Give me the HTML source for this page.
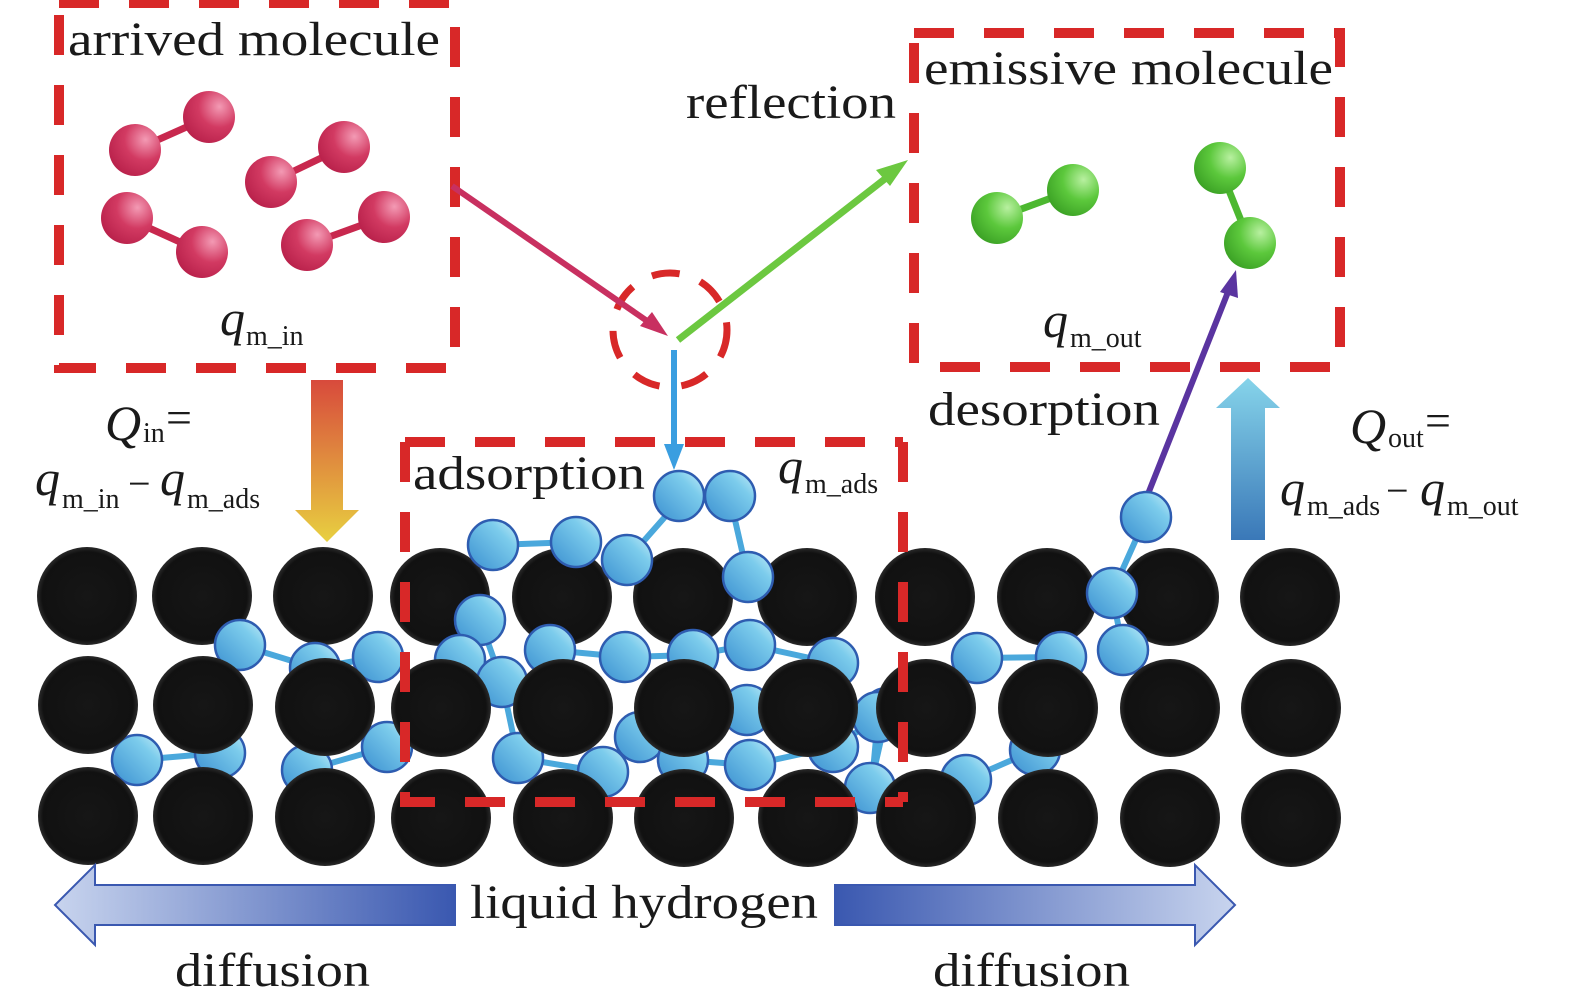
<!DOCTYPE html>
<html><head><meta charset="utf-8"><style>
html,body{margin:0;padding:0;background:#fff;}
svg{display:block;}
text{font-family:"Liberation Serif",serif;fill:#1a1a1a;}
</style></head><body>
<svg width="1575" height="1006" viewBox="0 0 1575 1006" xmlns="http://www.w3.org/2000/svg">
<defs>
<radialGradient id="rb" cx="0.7" cy="0.3" r="0.8"><stop offset="0" stop-color="#f39ab4"/><stop offset="0.5" stop-color="#d23a62"/><stop offset="1" stop-color="#b8204a"/></radialGradient>
<radialGradient id="gb" cx="0.7" cy="0.3" r="0.8"><stop offset="0" stop-color="#b8f0a0"/><stop offset="0.5" stop-color="#5cc83c"/><stop offset="1" stop-color="#3aa024"/></radialGradient>
<linearGradient id="bb" x1="0" y1="1" x2="1" y2="0"><stop offset="0" stop-color="#3a8fd0"/><stop offset="0.7" stop-color="#7cccec"/><stop offset="1" stop-color="#c8eef8"/></linearGradient>
<radialGradient id="kb" cx="0.5" cy="0.5" r="0.5"><stop offset="0" stop-color="#161616"/><stop offset="0.9" stop-color="#111"/><stop offset="1" stop-color="#2a2a2a"/></radialGradient>
<linearGradient id="inA" x1="0" y1="0" x2="0" y2="1"><stop offset="0" stop-color="#d84a3c"/><stop offset="1" stop-color="#e8d040"/></linearGradient>
<linearGradient id="outA" x1="0" y1="0" x2="0" y2="1"><stop offset="0" stop-color="#86d4ea"/><stop offset="1" stop-color="#3a78b8"/></linearGradient>
<linearGradient id="lA" x1="0" y1="0" x2="1" y2="0"><stop offset="0" stop-color="#c8d4ee"/><stop offset="1" stop-color="#3a58b0"/></linearGradient>
<linearGradient id="rA" x1="0" y1="0" x2="1" y2="0"><stop offset="0" stop-color="#3a58b0"/><stop offset="1" stop-color="#c8d4ee"/></linearGradient>
</defs>

<!-- dashed boxes -->
<g fill="none" stroke="#d82828" stroke-width="10" stroke-dasharray="40,30">
<rect x="59" y="3" width="396" height="365"/>
<rect x="914" y="33" width="426" height="334"/>
<path d="M405 442 H903 M405 442 V802 H903 M903 442 V802"/>
<circle cx="670" cy="330" r="57" stroke-dasharray="28,22" stroke-width="7"/>
</g>

<!-- red molecules -->
<g stroke="#c8284e" stroke-width="7">
<line x1="135" y1="150" x2="209" y2="117"/><line x1="271" y1="182" x2="344" y2="147"/>
<line x1="127" y1="218" x2="202" y2="252"/><line x1="307" y1="245" x2="384" y2="217"/>
</g>
<g fill="url(#rb)">
<circle cx="135" cy="150" r="26"/><circle cx="209" cy="117" r="26"/><circle cx="271" cy="182" r="26"/><circle cx="344" cy="147" r="26"/>
<circle cx="127" cy="218" r="26"/><circle cx="202" cy="252" r="26"/><circle cx="307" cy="245" r="26"/><circle cx="384" cy="217" r="26"/>
</g>
<!-- green molecules -->
<g stroke="#4cb830" stroke-width="7"><line x1="997" y1="218" x2="1073" y2="190"/><line x1="1220" y1="168" x2="1250" y2="243"/></g>
<g fill="url(#gb)"><circle cx="997" cy="218" r="26"/><circle cx="1073" cy="190" r="26"/><circle cx="1220" cy="168" r="26"/><circle cx="1250" cy="243" r="26"/></g>

<!-- arrows -->
<line x1="452" y1="186" x2="650" y2="323" stroke="#c83060" stroke-width="6"/>
<polygon points="668,336 640,326 652,312" fill="#c83060"/>
<line x1="678" y1="340" x2="890" y2="175" stroke="#6cc840" stroke-width="7"/>
<polygon points="908,160 876,170 890,186" fill="#6cc840"/>
<line x1="674" y1="350" x2="674" y2="450" stroke="#3a9ee0" stroke-width="6"/>
<polygon points="674,470 664,444 684,444" fill="#3a9ee0"/>
<line x1="1148" y1="494" x2="1228" y2="292" stroke="#5a34a0" stroke-width="6"/>
<polygon points="1236,270 1220,292 1238,298" fill="#5a34a0"/>
<polygon points="311,380 343,380 343,510 359,510 327,542 295,510 311,510" fill="url(#inA)"/>
<polygon points="1248,378 1280,408 1265,408 1265,540 1231,540 1231,408 1216,408" fill="url(#outA)"/>

<!-- blue bonds -->
<g stroke="#4aa8dc" stroke-width="6" fill="none">
<path d="M679 501 L627 560 M730 498 L748 577 M493 545 L576 542 M240 645 L315 668 L378 657 M137 760 L220 753 M307 770 L387 747 M480 620 L502 682 L460 660 M550 650 L625 657 L693 655 L750 645 L833 663 M518 758 L603 772 L640 737 L683 760 L750 765 L833 747 L887 713 L870 788 M747 710 L833 663 M1146 517 L1112 593 L1123 650 M977 658 L1061 657 M966 780 L1035 750 M871 793 L878 717 M502 682 L518 758"/>
</g>

<!-- black circles -->
<g fill="url(#kb)">
<ellipse cx="87" cy="596" rx="50" ry="49"/><ellipse cx="202" cy="596" rx="50" ry="49"/><ellipse cx="323" cy="596" rx="50" ry="49"/><ellipse cx="440" cy="597" rx="50" ry="49"/><ellipse cx="562" cy="597" rx="50" ry="49"/><ellipse cx="683" cy="597" rx="50" ry="49"/><ellipse cx="807" cy="597" rx="50" ry="49"/><ellipse cx="925" cy="597" rx="50" ry="49"/><ellipse cx="1047" cy="597" rx="50" ry="49"/><ellipse cx="1169" cy="597" rx="50" ry="49"/><ellipse cx="1290" cy="597" rx="50" ry="49"/>
</g>

<!-- blue spheres (mid layer) -->
<g fill="url(#bb)" stroke="#2e5cb0" stroke-width="2.5">
<circle cx="679" cy="496" r="25"/><circle cx="730" cy="496" r="25"/>
<circle cx="493" cy="545" r="25"/><circle cx="576" cy="542" r="25"/><circle cx="627" cy="560" r="25"/><circle cx="748" cy="577" r="25"/>
<circle cx="1146" cy="517" r="25"/><circle cx="1112" cy="593" r="25"/>
<circle cx="240" cy="645" r="25"/><circle cx="315" cy="668" r="25"/><circle cx="378" cy="657" r="25"/>
<circle cx="480" cy="620" r="25"/><circle cx="460" cy="660" r="25"/><circle cx="502" cy="682" r="25"/><circle cx="550" cy="650" r="25"/>
<circle cx="625" cy="657" r="25"/><circle cx="693" cy="655" r="25"/><circle cx="750" cy="645" r="25"/><circle cx="833" cy="663" r="25"/>
<circle cx="1123" cy="650" r="25"/><circle cx="977" cy="658" r="25"/><circle cx="1061" cy="657" r="25"/>
<circle cx="137" cy="760" r="25"/><circle cx="220" cy="753" r="25"/><circle cx="307" cy="770" r="25"/><circle cx="387" cy="747" r="25"/>
<circle cx="518" cy="758" r="25"/><circle cx="603" cy="772" r="25"/><circle cx="640" cy="737" r="25"/><circle cx="683" cy="760" r="25"/>
<circle cx="750" cy="765" r="25"/><circle cx="747" cy="710" r="25"/><circle cx="833" cy="747" r="25"/><circle cx="887" cy="713" r="25"/><circle cx="870" cy="788" r="25"/>
<circle cx="878" cy="717" r="25"/><circle cx="1035" cy="750" r="25"/><circle cx="966" cy="780" r="25"/>
</g>

<g fill="url(#kb)">
<ellipse cx="88" cy="705" rx="50" ry="49"/><ellipse cx="203" cy="705" rx="50" ry="49"/><ellipse cx="325" cy="707" rx="50" ry="49"/><ellipse cx="441" cy="708" rx="50" ry="49"/><ellipse cx="563" cy="708" rx="50" ry="49"/><ellipse cx="684" cy="708" rx="50" ry="49"/><ellipse cx="808" cy="708" rx="50" ry="49"/><ellipse cx="926" cy="708" rx="50" ry="49"/><ellipse cx="1048" cy="708" rx="50" ry="49"/><ellipse cx="1170" cy="708" rx="50" ry="49"/><ellipse cx="1291" cy="708" rx="50" ry="49"/>
<ellipse cx="88" cy="816" rx="50" ry="49"/><ellipse cx="203" cy="816" rx="50" ry="49"/><ellipse cx="325" cy="817" rx="50" ry="49"/><ellipse cx="441" cy="818" rx="50" ry="49"/><ellipse cx="563" cy="818" rx="50" ry="49"/><ellipse cx="684" cy="818" rx="50" ry="49"/><ellipse cx="808" cy="818" rx="50" ry="49"/><ellipse cx="926" cy="818" rx="50" ry="49"/><ellipse cx="1048" cy="818" rx="50" ry="49"/><ellipse cx="1170" cy="818" rx="50" ry="49"/><ellipse cx="1291" cy="818" rx="50" ry="49"/>
</g>
<!-- dashed box overlay on circles -->
<g fill="none" stroke="#d82828" stroke-width="10" stroke-dasharray="40,30"><path d="M405 442 V802 H903 M903 442 V802"/></g>

<!-- diffusion arrows -->
<polygon points="455,885 455,925 95,925 95,945 55,905 95,865 95,885" fill="url(#lA)" stroke="#3a58b0" stroke-width="2"/>
<polygon points="835,885 835,925 1195,925 1195,945 1235,905 1195,865 1195,885" fill="url(#rA)" stroke="#3a58b0" stroke-width="2"/>

<!-- text -->
<g font-size="48">
<text x="68" y="55" textLength="372" lengthAdjust="spacingAndGlyphs">arrived molecule</text>
<text x="686" y="118" textLength="210" lengthAdjust="spacingAndGlyphs">reflection</text>
<text x="924" y="84" textLength="409" lengthAdjust="spacingAndGlyphs">emissive molecule</text>
<text x="928" y="425" textLength="232" lengthAdjust="spacingAndGlyphs">desorption</text>
<text x="413" y="489" textLength="232" lengthAdjust="spacingAndGlyphs">adsorption</text>
<text x="470" y="918" textLength="348" lengthAdjust="spacingAndGlyphs">liquid hydrogen</text>
<text x="175" y="986" textLength="195" lengthAdjust="spacingAndGlyphs">diffusion</text>
<text x="933" y="986" textLength="197" lengthAdjust="spacingAndGlyphs">diffusion</text>
</g>
<g font-size="50" font-style="italic">
<text x="220" y="335">q</text>
<text x="1043" y="337">q</text>
<text x="778" y="483">q</text>
<text x="105" y="440">Q</text>
<text x="1350" y="443">Q</text>
<text x="35" y="495">q</text><text x="160" y="495">q</text>
<text x="1280" y="505">q</text><text x="1420" y="505">q</text>
</g>
<g font-size="28">
<text x="246" y="345">m_in</text>
<text x="1070" y="347">m_out</text>
<text x="805" y="493">m_ads</text>
<text x="143" y="442">in</text><text x="166" y="433" font-size="46">=</text>
<text x="1388" y="447">out</text><text x="1425" y="436" font-size="46">=</text>
<text x="62" y="508">m_in</text><text x="128" y="497" font-size="40">−</text><text x="187" y="508">m_ads</text>
<text x="1307" y="515">m_ads</text><text x="1386" y="504" font-size="40">−</text><text x="1447" y="515">m_out</text>
</g>
</svg>
</body></html>
